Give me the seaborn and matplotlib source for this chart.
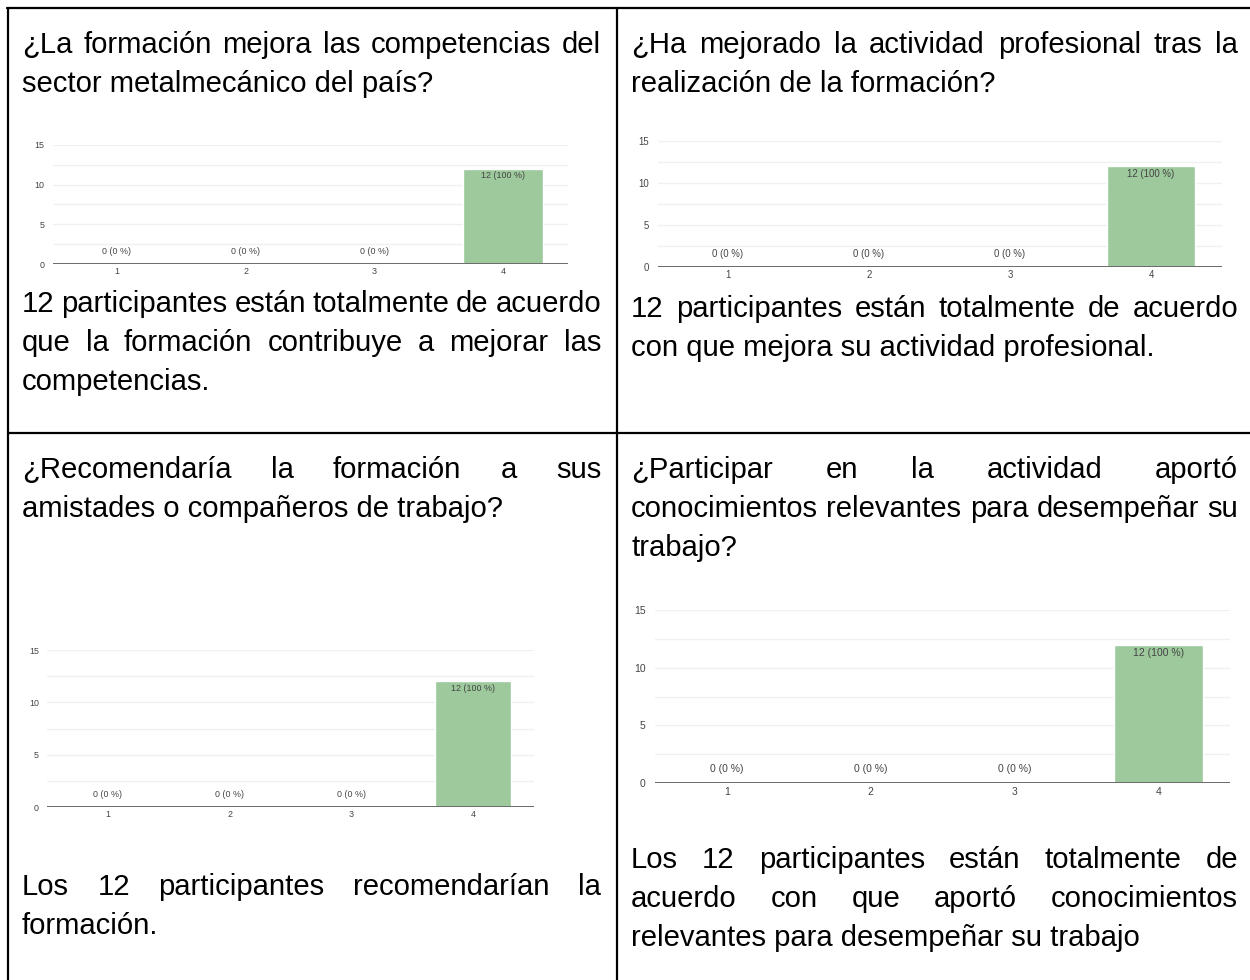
import matplotlib
matplotlib.use("Agg")
import matplotlib.pyplot as plt
from matplotlib.lines import Line2D
from matplotlib.transforms import ScaledTranslation
import seaborn as sns

W, H = 1250, 980

# ---- data -------------------------------------------------------------
categories = ["1", "2", "3", "4"]
counts_formacion_competencias = [0, 0, 0, 12]
counts_actividad_profesional = [0, 0, 0, 12]
counts_recomendaria = [0, 0, 0, 12]
counts_conocimientos = [0, 0, 0, 12]
y_ticks = [0, 5, 10, 15]
y_minor = [2.5, 7.5, 12.5]

# (text, justified)
q1_question = [("¿La formación mejora las competencias del", True),
               ("sector metalmecánico del país?", False)]
q1_answer = [("12 participantes están totalmente de acuerdo", True),
             ("que la formación contribuye a mejorar las", True),
             ("competencias.", False)]
q2_question = [("¿Ha mejorado la actividad profesional tras la", True),
               ("realización de la formación?", False)]
q2_answer = [("12 participantes están totalmente de acuerdo", True),
             ("con que mejora su actividad profesional.", False)]
q3_question = [("¿Recomendaría la formación a sus", True),
               ("amistades o compañeros de trabajo?", False)]
q3_answer = [("Los 12 participantes recomendarían la", True),
             ("formación.", False)]
q4_question = [("¿Participar en la actividad aportó", True),
               ("conocimientos relevantes para desempeñar su", True),
               ("trabajo?", False)]
q4_answer = [("Los 12 participantes están totalmente de", True),
             ("acuerdo con que aportó conocimientos", True),
             ("relevantes para desempeñar su trabajo", False)]

BAR_COLOR = "#9dc99c"
TEXT_SIZE = 21.1

sns.set_style("white")
plt.rcParams["font.family"] = ["Liberation Sans", "DejaVu Sans"]

fig = plt.figure(figsize=(W / 100, H / 100), dpi=100)
renderer = fig.canvas.get_renderer()


def fx(x):
    return x / W


def fy(y):
    return 1 - y / H


def paragraph(lines, x0, x1, baseline, step=39, size=TEXT_SIZE):
    for i, (line, justify) in enumerate(lines):
        yb = baseline + i * step
        if not justify:
            fig.text(fx(x0), fy(yb), line, fontsize=size, color="black",
                     ha="left", va="baseline")
            continue
        words = line.split()
        arts = [fig.text(0, fy(yb), w, fontsize=size, color="black",
                         ha="left", va="baseline") for w in words]
        widths = [a.get_window_extent(renderer).width for a in arts]
        gap = (x1 - x0 - sum(widths)) / (len(words) - 1)
        x = x0
        for a, w in zip(arts, widths):
            a.set_x(fx(x))
            x += w + gap


def chart(values, left, right, y_zero, y_top, fs):
    ax = fig.add_axes([fx(left), fy(y_zero), (right - left) / W, (y_zero - y_top) / H])
    sns.barplot(x=categories, y=values, color=BAR_COLOR, saturation=1,
                width=0.62, ax=ax, zorder=2)
    ax.set_xlim(-0.5, len(categories) - 0.5)
    ax.set_ylim(0, 15)
    ax.set_yticks(y_ticks)
    ax.set_yticks(y_minor, minor=True)
    ax.set_axisbelow(True)
    ax.grid(axis="y", which="both", color="#f0f0f0", lw=1)
    ax.grid(axis="x", visible=False)
    for s in ax.spines.values():
        s.set_visible(False)
    ax.axhline(0, color="#6b6b6b", lw=1.4, zorder=3)
    ax.set_xlabel("")
    ax.set_ylabel("")
    ax.tick_params(axis="x", direction="in", length=fs * 1.1, width=0.8,
                   color="#b0b0b0", labelsize=fs, labelcolor="#444444", pad=fs * 0.35)
    ax.tick_params(axis="y", which="both", length=0, labelsize=fs,
                   labelcolor="#444444", pad=fs * 0.9)
    total = sum(values)
    for i, v in enumerate(values):
        pct = round(100 * v / total) if total else 0
        label = f"{v} ({pct} %)"
        if v > 1.5:
            ax.text(i, v, label, ha="center", va="top", fontsize=fs,
                    color="#444444", zorder=4,
                    transform=ax.transData + ScaledTranslation(0, -fs * 0.3 / 72, fig.dpi_scale_trans))
        else:
            ax.text(i, v, label, ha="center", va="bottom", fontsize=fs,
                    color="#444444", zorder=4,
                    transform=ax.transData + ScaledTranslation(0, fs * 0.85 / 72, fig.dpi_scale_trans))
    return ax


# ---- table grid -------------------------------------------------------
for (x0, y0, x1, y1) in [(7, 8, W, 8), (8, 8, 8, H), (617, 8, 617, H), (8, 433, W, 433)]:
    fig.add_artist(Line2D([fx(x0), fx(x1)], [fy(y0), fy(y1)], color="black",
                          lw=1.6, transform=fig.transFigure))

# ---- cell texts -------------------------------------------------------
paragraph(q1_question, 22, 601, 53)
paragraph(q1_answer, 22, 601, 312)
paragraph(q2_question, 631, 1238, 53)
paragraph(q2_answer, 631, 1238, 317)
paragraph(q3_question, 22, 601, 478)
paragraph(q3_answer, 22, 601, 895)
paragraph(q4_question, 631, 1238, 478)
paragraph(q4_answer, 631, 1238, 868)

# ---- charts -----------------------------------------------------------
chart(counts_formacion_competencias, 52.5, 567.5, 264, 145, 6.4)
chart(counts_actividad_profesional, 657.5, 1221.5, 267, 141, 6.9)
chart(counts_recomendaria, 47, 534, 807, 650, 6.4)
chart(counts_conocimientos, 655, 1230, 783, 610, 7.5)

fig.savefig("out.png", dpi=100)
